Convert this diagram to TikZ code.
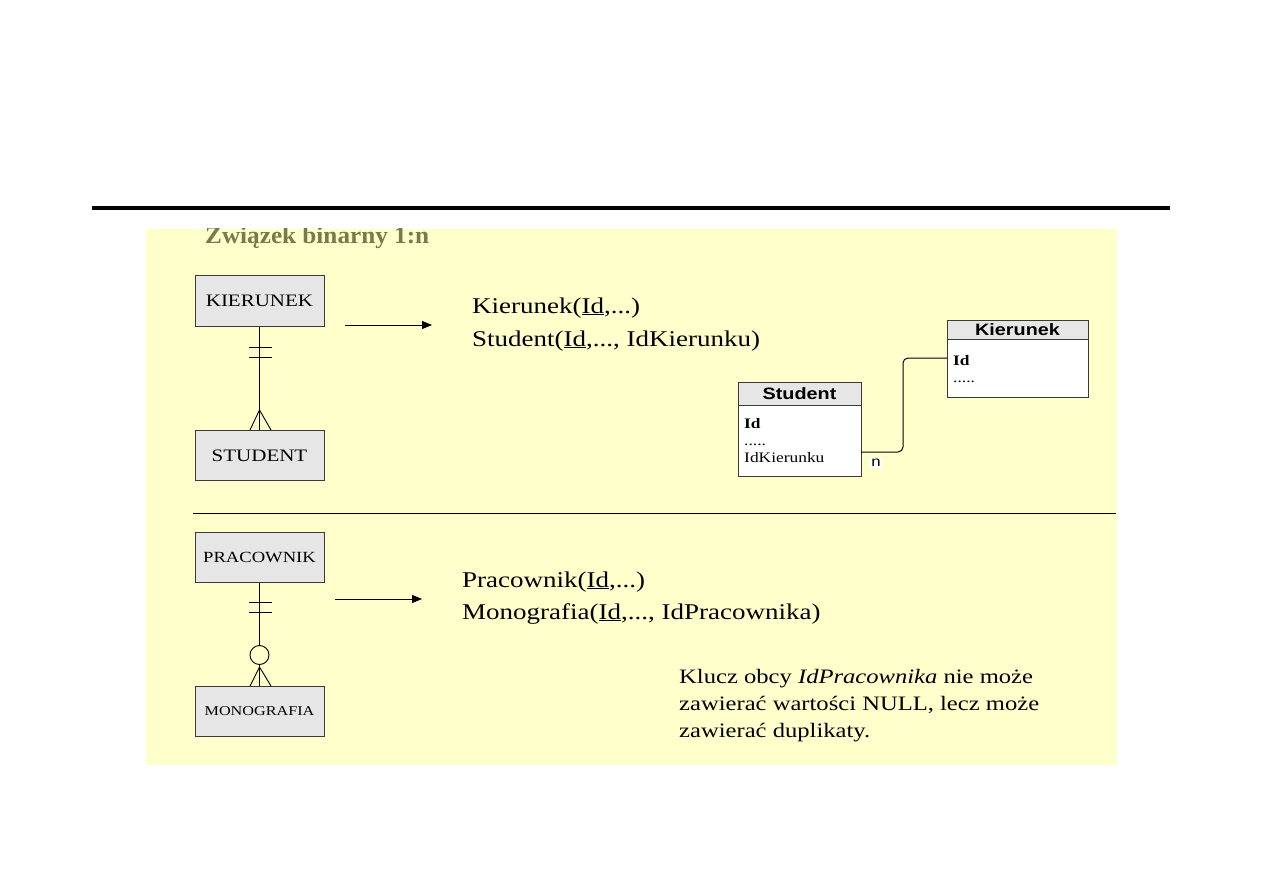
\documentclass[tikz,border=0pt]{standalone}
\usepackage{fontspec}
\setmainfont[FakeStretch=1.2]{Liberation Serif}
\setsansfont[FakeStretch=1.2]{Liberation Sans}
\newfontfamily\titlefont[FakeStretch=1.05]{Liberation Serif}
\usetikzlibrary{arrows.meta}
\definecolor{bgyellow}{HTML}{FFFFCC}
\definecolor{boxgray}{HTML}{E6E6E6}
\definecolor{boxline}{HTML}{3A3A3A}
\definecolor{titleol}{HTML}{7A7A48}
\tikzset{
  entity/.style={draw=boxline, fill=boxgray, line width=1pt, minimum width=129pt, minimum height=50pt, inner sep=0pt, font=\fontsize{17.5}{19}\selectfont},
  txt/.style={anchor=base west, inner sep=0pt, font=\fontsize{22.5}{26}\selectfont},
  notetxt/.style={anchor=base west, inner sep=0pt, font=\fontsize{20.5}{24}\selectfont},
  rel/.style={line width=0.9pt, draw=black},
  tbl/.style={draw=boxline, fill=white, line width=1pt},
  hdr/.style={draw=boxline, fill=boxgray, line width=1pt},
  hdrtxt/.style={font=\sffamily\bfseries\fontsize{16.5}{18}\selectfont, inner sep=0pt},
  fld/.style={anchor=base west, inner sep=0pt, font=\fontsize{14.5}{16}\selectfont},
}
\begin{document}
\begin{tikzpicture}[x=1pt,y=-1pt]
\useasboundingbox (0,0) rectangle (1263,893);
\fill[white] (0,0) rectangle (1263,893);
% top rule
\draw[line width=4pt] (92,208) -- (1170,208);
% background
\fill[bgyellow] (146,229) rectangle (1117,765);
\begin{scope}
\clip (146,229) rectangle (1117,765);
\node[anchor=base west, inner sep=0pt, text=titleol, font=\titlefont\bfseries\fontsize{24}{26}\selectfont] (title) at (205,244) {Związek binarny 1:n};
\end{scope}
% ---- upper part
\node[entity] (kier) at (259.5,301) {KIERUNEK};
\node[entity] (stud) at (259.5,455.5) {STUDENT};
\draw[rel] (kier.south) -- (stud.north);
\draw[rel] (249,347) -- (272,347);
\draw[rel] (249,357) -- (272,357);
\coordinate (ap1) at (259.5,410);
\draw[rel] (250,430) -- (ap1) -- (271,430);
\coordinate (a1s) at (345,325);
\coordinate (a1e) at (432,325);
\draw[line width=0.9pt, -{Triangle[length=10pt,width=8pt]}] (a1s) -- (a1e);
\node[txt] (r1) at (472,313) {Kierunek(\underline{Id},...)};
\node[txt] (r2) at (472,346) {Student(\underline{Id},..., IdKierunku)};
% tables
\draw[tbl] (738,382) rectangle (861,476);
\draw[hdr] (738,382) rectangle (861,405);
\node[hdrtxt] (sth) at (799.5,393.5) {Student};
\node[fld,font=\bfseries\fontsize{14.5}{16}\selectfont] (st1) at (744,428) {Id};
\node[fld] (st2) at (744,445) {.....};
\node[fld] (st3) at (744,462) {IdKierunku};
\draw[tbl] (947,320) rectangle (1088,397);
\draw[hdr] (947,320) rectangle (1088,339);
\node[hdrtxt] (kih) at (1017.5,329.5) {Kierunek};
\node[fld,font=\bfseries\fontsize{14.5}{16}\selectfont] (ki1) at (953,365) {Id};
\node[fld] (ki2) at (953,382) {.....};
\coordinate (cs) at (861,452);
\coordinate (ce) at (947,358);
\draw[line width=1pt, rounded corners=5pt] (cs) -- (903,452) -- (903,358) -- (ce);
\node[fill=white, inner sep=1.5pt, font=\sffamily\fontsize{14}{15}\selectfont] (nlab) at (876,463) {n};
% separator
\draw[line width=0.9pt] (193,513) -- (1116,513);
% ---- lower part
\node[entity, font=\fontsize{15.5}{17}\selectfont] (prac) at (259.5,557.5) {PRACOWNIK};
\node[entity, font=\fontsize{13.5}{15}\selectfont] (mono) at (259.5,711.5) {MONOGRAFIA};
\node[draw, circle, line width=0.9pt, minimum size=19pt, inner sep=0pt] (opt) at (259.5,655) {};
\draw[rel] (prac.south) -- (opt.north);
\draw[rel] (opt.south) -- (mono.north);
\draw[rel] (249,602) -- (272,602);
\draw[rel] (249,612) -- (272,612);
\coordinate (ap2) at (259.5,667);
\draw[rel] (250,686) -- (ap2) -- (271,686);
\coordinate (a2s) at (335,599);
\coordinate (a2e) at (422,599);
\draw[line width=0.9pt, -{Triangle[length=10pt,width=8pt]}] (a2s) -- (a2e);
\node[txt] (r3) at (462,587) {Pracownik(\underline{Id},...)};
\node[txt] (r4) at (462,619) {Monografia(\underline{Id},..., IdPracownika)};
\node[notetxt] (n1) at (679,683) {Klucz obcy \textit{IdPracownika} nie może};
\node[notetxt] (n2) at (679,710) {zawierać wartości NULL, lecz może};
\node[notetxt] (n3) at (679,737) {zawierać duplikaty.};
\end{tikzpicture}
\end{document}
